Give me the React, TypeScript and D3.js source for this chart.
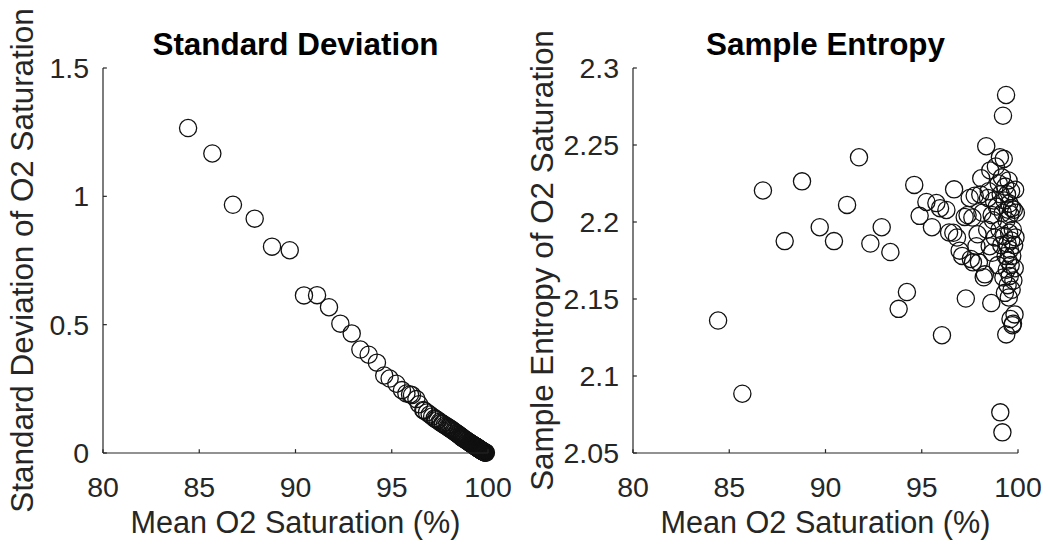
import React from "react";
import * as d3 from "d3";

// Mean O2 saturation (%) for each record (shared by both panels)
const meanO2: number[] = [
  84.42, 85.68, 86.75, 87.88, 88.78, 89.7, 90.44, 91.12, 91.74, 92.33,
  92.92, 93.37, 93.8, 94.23, 94.61, 94.89, 95.24, 95.53, 95.76, 95.95,
  96.05, 96.28, 96.42, 96.64, 96.68, 96.83, 96.97, 97.1, 97.23, 97.29,
  97.38, 97.49, 97.55, 97.63, 97.66, 97.75, 97.84, 97.9, 97.97, 98.04,
  98.09, 98.15, 98.22, 98.28, 98.35, 98.4, 98.44, 98.48, 98.53, 98.56,
  98.61, 98.63, 98.66, 98.7, 98.75, 98.8, 98.85, 98.9, 98.95, 99.0,
  99.04, 99.06, 99.08, 99.1, 99.13, 99.16, 99.19, 99.21, 99.22, 99.24,
  99.26, 99.28, 99.3, 99.32, 99.34, 99.36, 99.38, 99.39, 99.4, 99.42,
  99.43, 99.45, 99.46, 99.48, 99.49, 99.51, 99.52, 99.54, 99.55, 99.57,
  99.58, 99.6, 99.61, 99.62, 99.64, 99.65, 99.67, 99.68, 99.7, 99.71,
  99.73, 99.74, 99.76, 99.78, 99.8, 99.82, 99.83, 99.85, 99.87, 99.89,
];

// Standard deviation of O2 saturation
const stdDev: number[] = [
  1.266, 1.167, 0.967, 0.913, 0.804, 0.79, 0.614, 0.615, 0.568, 0.504,
  0.466, 0.403, 0.383, 0.352, 0.302, 0.29, 0.27, 0.245, 0.232, 0.228,
  0.226, 0.21, 0.19, 0.168, 0.165, 0.158, 0.15, 0.142, 0.135, 0.132,
  0.128, 0.122, 0.118, 0.115, 0.113, 0.108, 0.105, 0.101, 0.098, 0.095,
  0.092, 0.089, 0.085, 0.082, 0.078, 0.076, 0.073, 0.071, 0.068, 0.066,
  0.064, 0.062, 0.06, 0.058, 0.056, 0.053, 0.051, 0.048, 0.046, 0.043,
  0.041, 0.04, 0.039, 0.038, 0.036, 0.035, 0.033, 0.032, 0.032, 0.031,
  0.03, 0.029, 0.028, 0.027, 0.026, 0.025, 0.024, 0.024, 0.023, 0.022,
  0.022, 0.021, 0.02, 0.019, 0.019, 0.018, 0.017, 0.016, 0.016, 0.015,
  0.014, 0.013, 0.013, 0.012, 0.011, 0.011, 0.01, 0.009, 0.008, 0.008,
  0.007, 0.006, 0.006, 0.005, 0.004, 0.003, 0.003, 0.002, 0.002, 0.001,
];

// Sample entropy of O2 saturation
const sampEn: number[] = [
  2.136, 2.0885, 2.2205, 2.1876, 2.2264, 2.1966, 2.1876, 2.2111, 2.242, 2.186,
  2.1966, 2.1805, 2.1436, 2.1545, 2.2241, 2.204, 2.213, 2.1966, 2.2123, 2.209,
  2.1265, 2.2078, 2.1932, 2.193, 2.2212, 2.1899, 2.1814, 2.178, 2.2033, 2.1503,
  2.2045, 2.2156, 2.176, 2.2029, 2.1738, 2.217, 2.1843, 2.192, 2.1738, 2.2179,
  2.2284, 2.206, 2.1641, 2.166, 2.2492, 2.195, 2.2156, 2.22, 2.1843, 2.2335,
  2.1474, 2.2045, 2.18, 2.2011, 2.214, 2.19, 2.236, 2.21, 2.172, 2.225,
  2.195, 2.242, 2.0764, 2.218, 2.185, 2.229, 2.0634, 2.206, 2.269, 2.164,
  2.241, 2.191, 2.214, 2.154, 2.223, 2.178, 2.2825, 2.127, 2.201, 2.169,
  2.218, 2.186, 2.159, 2.208, 2.175, 2.227, 2.151, 2.193, 2.212, 2.165,
  2.182, 2.205, 2.137, 2.172, 2.22, 2.188, 2.156, 2.209, 2.178, 2.133,
  2.195, 2.134, 2.162, 2.208, 2.185, 2.14, 2.17, 2.221, 2.19, 2.206,
];

const xTicks: number[] = [80, 85, 90, 95, 100];
const sdTicks: number[] = [0, 0.5, 1, 1.5];
const seTicks: number[] = [2.05, 2.1, 2.15, 2.2, 2.25, 2.3];

const FONT = "'Liberation Sans', Arial, Helvetica, sans-serif";
const AXIS = "#262626";
const TICK_FS = 28.5;
const LABEL_FS = 31.4;
const XLABEL_FS = 30.6;

type PanelProps = {
  left: number;
  title: string;
  yLabel: string;
  yLabelOffset: number;
  yDomain: [number, number];
  yTicks: number[];
  yValues: number[];
  yFmt: (v: number) => string;
};

const TOP = 68;
const BOTTOM = 453;
const WIDTH = 385;

function Panel({ left, title, yLabel, yLabelOffset, yDomain, yTicks, yValues, yFmt }: PanelProps) {
  const x = d3.scaleLinear().domain([80, 100]).range([left, left + WIDTH]);
  const y = d3.scaleLinear().domain(yDomain).range([BOTTOM, TOP]);
  const tl = 3.85;
  const cx = left + WIDTH / 2;
  const cy = (TOP + BOTTOM) / 2;
  return (
    <g>
      {meanO2.map((m, i) => (
        <circle
          key={i}
          cx={x(m)}
          cy={y(yValues[i])}
          r={8.6}
          fill="none"
          stroke="#111"
          strokeWidth={1.3}
        />
      ))}
      <line x1={left} x2={left + WIDTH} y1={BOTTOM} y2={BOTTOM} stroke={AXIS} strokeWidth={1.2} />
      <line x1={left} x2={left} y1={TOP} y2={BOTTOM} stroke={AXIS} strokeWidth={1.2} />
      {xTicks.map((t) => (
        <g key={"x" + t}>
          <line x1={x(t)} x2={x(t)} y1={BOTTOM} y2={BOTTOM - tl} stroke={AXIS} strokeWidth={1.2} />
          <text
            x={x(t)}
            y={BOTTOM + 44}
            textAnchor="middle"
            fontFamily={FONT}
            fontSize={TICK_FS}
            fill={AXIS}
          >
            {t}
          </text>
        </g>
      ))}
      {yTicks.map((t) => (
        <g key={"y" + t}>
          <line x1={left} x2={left + tl} y1={y(t)} y2={y(t)} stroke={AXIS} strokeWidth={1.2} />
          <text
            x={left - 14}
            y={y(t) + 10}
            textAnchor="end"
            fontFamily={FONT}
            fontSize={TICK_FS}
            fill={AXIS}
          >
            {yFmt(t)}
          </text>
        </g>
      ))}
      <text
        x={cx}
        y={55}
        textAnchor="middle"
        fontFamily={FONT}
        fontSize={LABEL_FS}
        fontWeight="bold"
        fill="#000"
      >
        {title}
      </text>
      <text
        x={cx}
        y={533}
        textAnchor="middle"
        fontFamily={FONT}
        fontSize={XLABEL_FS}
        fill={AXIS}
      >
        Mean O2 Saturation (%)
      </text>
      <text
        transform={`translate(${left - yLabelOffset},${cy}) rotate(-90)`}
        textAnchor="middle"
        fontFamily={FONT}
        fontSize={LABEL_FS}
        fill={AXIS}
      >
        {yLabel}
      </text>
    </g>
  );
}

export default function App() {
  return (
    <svg
      width={1045}
      height={544}
      style={{ position: "absolute", left: 0, top: 0, background: "#fff" }}
    >
      <rect width={1045} height={544} fill="#fff" />
      <Panel
        left={103}
        title="Standard Deviation"
        yLabel="Standard Deviation of O2 Saturation"
        yLabelOffset={70}
        yDomain={[0, 1.5]}
        yTicks={sdTicks}
        yValues={stdDev}
        yFmt={(v) => String(v)}
      />
      <Panel
        left={633}
        title="Sample Entropy"
        yLabel="Sample Entropy of O2 Saturation"
        yLabelOffset={80}
        yDomain={[2.05, 2.3]}
        yTicks={seTicks}
        yValues={sampEn}
        yFmt={(v) => String(v)}
      />
    </svg>
  );
}
